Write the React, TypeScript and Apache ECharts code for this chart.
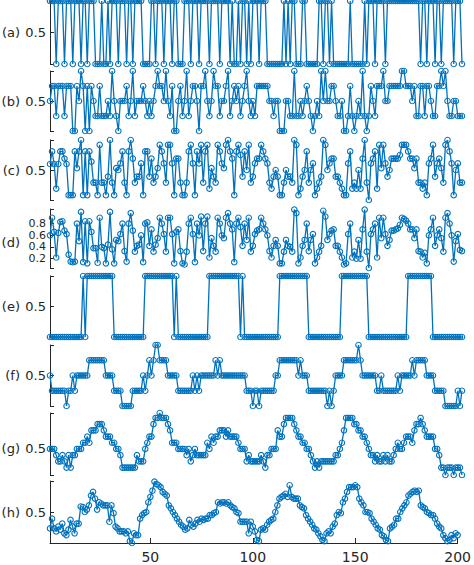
import React, { useEffect, useRef } from 'react';
import * as echarts from 'echarts';

// panel names and x ticks
const panelNames = ['(a)', '(b)', '(c)', '(d)', '(e)', '(f)', '(g)', '(h)'];
const xTicks = [50, 100, 150, 200];

// values, sample 1..200
const seriesA = [
  1, 1, 1, 0, 1, 1, 1, 0, 1, 1,
  1, 0, 1, 1, 1, 0, 1, 1, 0, 1,
  1, 1, 0, 0, 0, 1, 0, 0, 1, 0,
  1, 1, 1, 0, 1, 1, 1, 0, 1, 1,
  0, 1, 1, 1, 1, 0, 0, 0, 0, 1,
  1, 0, 1, 1, 1, 0, 1, 1, 1, 0,
  1, 1, 0, 0, 0, 1, 1, 1, 0, 1,
  1, 1, 0, 1, 1, 1, 1, 0, 1, 1,
  1, 1, 0, 1, 1, 1, 1, 0, 1, 0,
  0, 1, 0, 1, 1, 0, 1, 0, 1, 1,
  1, 0, 1, 1, 1, 0, 0, 0, 0, 0,
  0, 0, 0, 1, 0, 1, 0, 1, 1, 0,
  0, 0, 1, 1, 0, 0, 0, 0, 0, 0,
  1, 1, 0, 1, 1, 0, 1, 0, 0, 0,
  0, 0, 0, 0, 0, 1, 0, 0, 0, 0,
  0, 0, 1, 0, 1, 1, 1, 0, 1, 1,
  1, 1, 0, 1, 1, 1, 1, 1, 1, 1,
  1, 1, 1, 1, 1, 1, 1, 1, 1, 0,
  1, 1, 0, 1, 1, 1, 0, 1, 1, 0,
  1, 1, 1, 1, 1, 0, 1, 1, 1, 0,
];

const seriesB = [
  .5, .75, .75, .25, .75, .75, .75, .25, .75, .75,
  .75, 0, 0, .75, .5, 1, .75, 0, .75, 0,
  .75, .5, .25, .25, .75, .25, .25, .25, .5, .25,
  1, .5, .25, 0, .5, .5, .5, .75, .25, .5,
  1, .25, .5, .5, .5, .75, .5, .25, .5, .25,
  .5, .75, 1, .75, .75, .5, 1, .5, .25, .75,
  0, 0, .5, .75, .25, .5, 1, .25, .5, .75,
  .75, .5, 0, .75, .75, 1, .5, .25, .5, 1,
  .75, .75, .25, .5, .5, .75, 1, .25, .5, .75,
  .5, .75, .25, .5, .75, 1, .5, .25, .5, .25,
  .75, .75, .75, .75, .75, .75, .5, .5, .25, .5,
  .5, 0, 0, 0, .5, .5, .25, .25, 1, .25,
  .25, .5, .25, .5, .75, .5, .25, 0, .25, .5,
  .25, 1, .5, 1, .5, .5, .75, .75, .5, .25,
  .25, .5, 0, 0, .25, .75, .25, 0, .25, .5,
  .25, 1, .25, 0, .25, .75, .5, .25, .75, .75,
  .75, 1, .5, .5, .75, .75, .75, .75, .75, .75,
  1, 1, .75, .75, .75, .5, .75, .25, .25, .75,
  .75, .25, .75, .75, .5, .25, .25, .75, .75, 1,
  .75, 1, .5, .25, .25, .5, .5, .25, .25, .25,
];

const seriesC = [
  .6, .81, .6, .19, .6, .81, .81, .69, .6, .08,
  .08, .08, .81, .53, .81, 1, .08, .81, .08, .81,
  .64, .29, .29, .08, .92, .29, .29, .08, .39, 1,
  .29, .08, .53, .5, .61, .81, .29, .08, .81, 1,
  .69, .29, .39, .39, .61, .08, .81, .81, .39, .69,
  .29, .39, .53, .92, .81, .61, .29, .92, .92, .61,
  .08, .69, .69, .29, .08, .08, .29, .81, .92, .61,
  .08, .81, .61, .92, .29, .81, .92, .19, .53, .39,
  .29, .92, .81, .61, .53, .92, 1, .81, .69, .08,
  .81, .92, .75, .39, .81, .5, .92, .29, .39, .61,
  .69, .69, .92, .81, .69, .61, .29, .19, .39, .5,
  .39, .08, .08, .29, .5, .39, .39, .29, 1, .92,
  .08, .19, .39, .5, .81, .29, .5, .61, .08, .19,
  .29, .39, 1, .92, .5, .61, .69, .69, .39, .39,
  .29, .19, .08, .08, .61, .81, .19, .29, .19, .5,
  .19, .69, 1, .29, 0, .61, .69, .81, .19, .92,
  .53, .92, .61, .39, .5, .69, .69, .69, .69, .75,
  .92, .92, .92, .81, .69, .69, .53, .69, .29, .29,
  .19, .29, .08, .61, .69, .92, .39, .61, .69, .53,
  .29, .92, 1, .81, .61, .08, .5, .61, .29, .29,
];

const seriesD = [
  .6, .9, .66, .22, .64, .83, .84, .68, .62, .27,
  .15, .14, .15, .8, .5, 1, .14, .84, .12, .84,
  .66, .38, .38, .13, .9, .4, .38, .12, .44, 1,
  .36, .12, .52, .5, .62, .8, .33, .15, .8, .98,
  .68, .32, .42, .44, .6, .14, .8, .82, .42, .7,
  .32, .44, .55, .9, .8, .62, .32, .9, .9, .62,
  .12, .66, .7, .33, .12, .1, .32, .8, .9, .62,
  .14, .8, .6, .92, .33, .8, .92, .22, .55, .42,
  .32, .9, .8, .6, .55, .9, .98, .8, .7, .14,
  .8, .9, .74, .42, .8, .52, .9, .32, .42, .62,
  .68, .7, .9, .8, .7, .6, .33, .22, .42, .52,
  .42, .12, .12, .32, .52, .42, .4, .32, 1.04, .98,
  .12, .22, .42, .52, .8, .33, .52, .62, .12, .22,
  .32, .42, 1.02, .92, .52, .62, .68, .7, .42, .42,
  .32, .22, .1, .12, .62, .8, .22, .32, .2, .52,
  .2, .7, 1.04, .32, .04, .62, .7, .8, .22, .9,
  .55, .9, .62, .42, .52, .68, .68, .7, .72, .78,
  .9, .88, .85, .8, .7, .7, .55, .7, .33, .32,
  .22, .3, .12, .6, .7, .9, .42, .6, .7, .55,
  .32, .9, .98, .8, .6, .15, .5, .62, .35, .33,
];

const seriesE = [
  0, 0, 0, 0, 0, 0, 0, 0, 0, 0,
  0, 0, 0, 0, 0, 0, 1, 0, 1, 1,
  1, 1, 1, 1, 1, 1, 1, 1, 1, 1,
  1, 0, 0, 0, 0, 0, 0, 0, 0, 0,
  0, 0, 0, 0, 0, 0, 1, 1, 1, 1,
  1, 1, 1, 1, 1, 1, 1, 1, 1, 1,
  0, 1, 0, 0, 0, 0, 0, 0, 0, 0,
  0, 0, 0, 0, 0, 0, 0, 1, 1, 1,
  1, 1, 1, 1, 1, 1, 1, 1, 1, 1,
  1, 1, 0, 1, 0, 0, 0, 0, 0, 0,
  0, 0, 0, 0, 0, 0, 0, 0, 0, 0,
  0, 1, 1, 1, 1, 1, 1, 1, 1, 1,
  1, 1, 1, 1, 1, 0, 0, 0, 0, 0,
  0, 0, 0, 0, 0, 0, 0, 0, 0, 0,
  0, 1, 1, 1, 1, 1, 1, 1, 1, 1,
  1, 1, 1, 1, 0, 0, 0, 0, 0, 0,
  0, 0, 0, 0, 0, 0, 0, 0, 0, 0,
  0, 0, 0, 1, 1, 1, 1, 1, 1, 1,
  1, 1, 1, 1, 1, 0, 0, 0, 0, 0,
  0, 0, 0, 0, 0, 0, 0, 0, 0, 0,
];

const seriesF = [
  .5, .25, .25, .25, .25, .25, .25, .25, 0, .25,
  .25, .5, .25, .5, .5, .5, .5, .5, .5, .75,
  .75, .75, .75, .75, .75, .75, .75, .5, .5, .5,
  .5, .25, .25, .25, .25, 0, 0, 0, 0, 0,
  .25, .25, .25, .25, .25, .5, .25, .5, .75, .5,
  .75, 1, 1, .75, .75, .75, .75, .5, .5, .5,
  .5, .5, .25, .25, .25, .25, .25, .25, .25, .5,
  .25, .5, .25, .5, .5, .5, .5, .5, .5, .5,
  .75, .5, .75, .5, .5, .5, .5, .5, .5, .5,
  .5, .5, .5, .5, .5, .25, .25, .25, 0, .25,
  .25, 0, .25, .25, .25, .25, .25, .25, .25, .5,
  .5, .75, .75, .75, .75, .75, .75, .75, .75, .75,
  .5, .75, .5, .5, .5, .25, .25, .25, .25, .25,
  .25, .25, .25, .25, 0, .25, 0, .25, .5, .5,
  .5, .5, .75, .75, .75, .75, .75, .75, .75, 1,
  .75, .5, .5, .5, .5, .5, .5, .5, .25, .25,
  .5, .25, .25, .25, .25, .25, .25, .25, .5, .25,
  .5, .5, .5, .5, .5, .75, .5, .75, .75, .75,
  .75, .75, .5, .5, .5, .5, .25, .25, .25, .25,
  .25, 0, 0, 0, 0, 0, 0, .25, 0, .25,
];

const seriesG = [
  .5, .5, .5, .4, .3, .3, .4, .3, .2, .4,
  .2, .4, .4, .5, .5, .5, .6, .6, .7, .6,
  .8, .8, .8, .9, .9, .9, .8, .7, .7, .7,
  .6, .6, .5, .5, .4, .2, .2, .2, .2, .2,
  .2, .2, .4, .3, .3, .3, .5, .6, .7, .7,
  .9, 1, 1, 1.08, 1, 1, 1, .9, .8, .6,
  .6, .6, .5, .5, .5, .5, .4, .5, .3, .4,
  .5, .4, .4, .4, .4, .4, .6, .5, .7, .6,
  .7, .7, .8, .8, .8, .7, .8, .7, .7, .7,
  .7, .6, .5, .5, .5, .3, .4, .3, .3, .3,
  .3, .3, .4, .3, .2, .4, .4, .5, .5, .5,
  .8, .7, .7, .9, 1, 1, 1, 1, .9, .8,
  .7, .7, .6, .6, .5, .5, .4, .3, .2, .3,
  .2, .3, .3, .3, .3, .3, .3, .3, .4, .4,
  .5, .6, .8, 1, 1, 1, 1, .9, .9, .8,
  .8, .7, .7, .6, .5, .4, .4, .3, .4, .3,
  .3, .4, .3, .4, .3, .3, .4, .5, .6, .5,
  .5, .6, .7, .7, .7, .6, .8, .9, .9, 1,
  .9, .8, .7, .7, .7, .7, .5, .5, .4, .2,
  .2, .08, .2, .2, .2, .08, .2, .2, .2, .08,
];

const seriesH = [
  .24, .4, .24, .19, .27, .22, .32, .16, .13, .22,
  .38, .27, .16, .32, .32, .6, .59, .51, .55, .62,
  .78, .84, .73, .55, .67, .65, .62, .62, .62, .35,
  .62, .49, .27, .24, .19, .19, .19, .16, .19, .03,
  0, .16, .13, .13, .4, .46, .49, .51, .67, .76,
  .86, 1.01, .97, .95, .92, .84, .81, .78, .62, .57,
  .51, .46, .4, .35, .3, .27, .22, .24, .38, .3,
  .27, .32, .38, .35, .4, .38, .4, .4, .46, .46,
  .49, .51, .67, .65, .67, .67, .65, .67, .62, .59,
  .57, .51, .49, .35, .35, .35, .35, .16, .35, .27,
  .19, .05, .03, .22, .24, .22, .3, .35, .38, .4,
  .51, .62, .73, .76, .78, .81, .76, .95, .76, .73,
  .73, .73, .62, .59, .57, .46, .4, .35, .3, .24,
  .22, .16, .11, .05, .03, .16, .19, .16, .27, .32,
  .46, .51, .49, .67, .73, .84, .92, .92, .92, .95,
  .92, .73, .67, .62, .51, .51, .49, .4, .35, .3,
  .24, .22, .13, .11, .05, .03, .24, .27, .3, .4,
  .4, .51, .57, .62, .67, .78, .81, .84, .86, .84,
  .86, .62, .59, .57, .51, .49, .46, .46, .4, .32,
  .27, .24, .13, .08, .03, .05, .13, .08, .16, .13,
];

const AXIS = '#262626';
const BLUE = '#0072BD';
const FONT = '"DejaVu Sans", sans-serif';
const LEFT = 50;
const PLOT_W = 412;

interface Panel {
  name:     string;
  values:   number[];
  top:      number;
  bottom:   number;
  min:      number;
  max:      number;
  ticks:    number[];
  labels:   number[];
  // second set of labels for the crowded (d) axis, put on a twin axis
  labels2?: number[];
  nameAt:   number;
}

const panels: Panel[] = [
  { name: panelNames[0], values: seriesA, top: 1,   bottom: 64,  min: 0,    max: 1,    ticks: [0, 0.5, 1],       labels: [0.5], nameAt: 0.5 },
  { name: panelNames[1], values: seriesB, top: 71,  bottom: 131, min: 0,    max: 1,    ticks: [0, 0.5, 1],       labels: [0.5], nameAt: 0.5 },
  { name: panelNames[2], values: seriesC, top: 140, bottom: 200, min: 0,    max: 1,    ticks: [0, 0.5, 1],       labels: [0.5], nameAt: 0.5 },
  { name: panelNames[3], values: seriesD, top: 209, bottom: 268, min: 0.04, max: 1.05, ticks: [0.04, 0.2, 0.4, 0.6, 0.8, 1.05], labels: [0.2, 0.6], labels2: [0.4, 0.8], nameAt: 0.48 },
  { name: panelNames[4], values: seriesE, top: 276, bottom: 337, min: 0,    max: 1,    ticks: [0, 0.5, 1],       labels: [0.5], nameAt: 0.5 },
  { name: panelNames[5], values: seriesF, top: 345, bottom: 406, min: 0,    max: 1,    ticks: [0, 0.5, 1],       labels: [0.5], nameAt: 0.5 },
  { name: panelNames[6], values: seriesG, top: 413, bottom: 475, min: 0.08, max: 1.08, ticks: [0.08, 0.5, 1.08], labels: [0.5], nameAt: 0.5 },
  { name: panelNames[7], values: seriesH, top: 481, bottom: 543, min: 0,    max: 1.02, ticks: [0, 0.5, 1.02],    labels: [0.5], nameAt: 0.5 },
];

function yAxisFor(p: Panel, k: number, labels: number[], twin: boolean) {
  const crowded = !!p.labels2;
  return {
    type: 'value' as const, gridIndex: k, min: p.min, max: p.max, position: 'left' as const,
    axisLine: { show: !twin, lineStyle: { color: AXIS, width: 1 } },
    axisTick: {
      show: !twin, inside: true, length: 4, customValues: p.ticks,
      lineStyle: { color: AXIS, width: 1 },
    },
    axisLabel: {
      show: true, customValues: labels, margin: 4,
      color: AXIS, fontSize: crowded ? 11 : 13, lineHeight: crowded ? 10 : 15,
      fontFamily: FONT,
      formatter: (v: number) => String(v),
    },
    splitLine: { show: false },
  };
}

function buildOption(): echarts.EChartsOption {
  const last = panels.length - 1;
  const yAxes: any[] = panels.map((p, k) => yAxisFor(p, k, p.labels, false));
  panels.forEach((p, k) => {
    if (p.labels2) yAxes.push(yAxisFor(p, k, p.labels2, true));
  });

  return {
    animation: false,
    backgroundColor: '#ffffff',
    grid: panels.map((p) => ({
      left: LEFT, width: PLOT_W, top: p.top, height: p.bottom - p.top,
      containLabel: false,
    })),
    xAxis: panels.map((p, k) => ({
      type: 'value', gridIndex: k, min: 1, max: 200,
      show: k === last,
      axisLine: { show: true, onZero: false, lineStyle: { color: AXIS, width: 1 } },
      axisTick: {
        show: true, inside: true, length: 5, customValues: xTicks,
        lineStyle: { color: AXIS, width: 1 },
      },
      axisLabel: {
        show: true, customValues: xTicks, margin: 7,
        color: AXIS, fontSize: 14, fontFamily: FONT,
      },
      splitLine: { show: false },
    })),
    yAxis: yAxes,
    graphic: panels.map((p) => ({
      type: 'text',
      x: 20,
      y: p.top + (p.bottom - p.top) * (p.max - p.nameAt) / (p.max - p.min),
      silent: true,
      style: {
        text: p.name, fill: AXIS, fontSize: 13, fontFamily: FONT,
        align: 'right', verticalAlign: 'middle',
      },
    })),
    series: panels.map((p, k) => ({
      type: 'line',
      xAxisIndex: k, yAxisIndex: k,
      data: p.values.map((v, i) => [i + 1, v]),
      symbol: 'circle', symbolSize: 5.5,
      itemStyle: { color: 'rgba(255,255,255,0)', borderColor: BLUE, borderWidth: 1.1 },
      lineStyle: { color: BLUE, width: 1.3 },
      emphasis: { disabled: true },
      silent: true,
      clip: false,
    })),
  };
}

export default function App() {
  const ref = useRef<HTMLDivElement>(null);

  useEffect(() => {
    if (!ref.current) return;
    const chart = echarts.init(ref.current, null, { renderer: 'svg' });
    chart.setOption(buildOption());
    return () => chart.dispose();
  }, []);

  return (
    <div
      ref={ref}
      style={{ position: 'absolute', left: 0, top: 0, width: 474, height: 565, background: '#fff' }}
    />
  );
}
